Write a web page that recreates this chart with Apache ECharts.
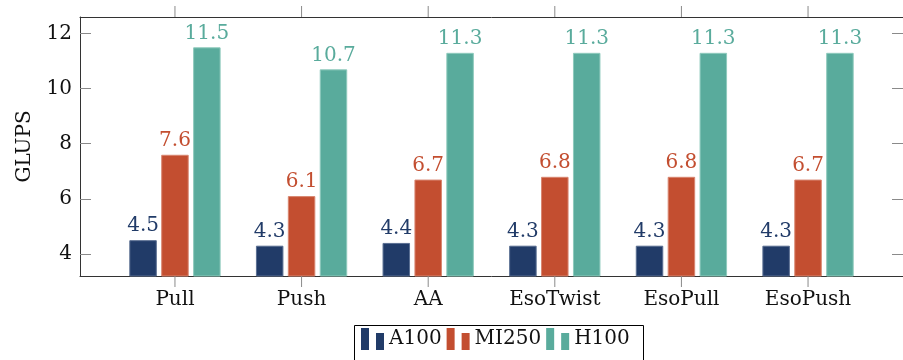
<!DOCTYPE html>
<html>
<head>
<meta charset="utf-8">
<script src="https://cdn.jsdelivr.net/npm/echarts@6/dist/echarts.min.js"></script>
<style>
  html, body { margin: 0; padding: 0; background: #fff; }
  #chart { width: 903px; height: 360px; }
</style>
</head>
<body>
<div id="chart"></div>
<script>
// Kernel variants and measured throughput (GLUPS) per GPU
const categories = ['Pull', 'Push', 'AA', 'EsoTwist', 'EsoPull', 'EsoPush'];
const a100 = [4.5, 4.3, 4.4, 4.3, 4.3, 4.3];
const mi250 = [7.6, 6.1, 6.7, 6.8, 6.8, 6.7];
const h100 = [11.5, 10.7, 11.3, 11.3, 11.3, 11.3];
const yTicks = [4, 6, 8, 10, 12];

const FONT = 'DejaVu Serif';
const FS = 20;
const Y_MIN = 3.2, Y_MAX = 12.6;
const X_MIN = -0.75, X_MAX = 5.75;
const TICK_LEN = 11;
const TICK_COLOR = '#8a8a8a';
const colors = { A100: '#213b68', MI250: '#c34e30', H100: '#59ab9c' };
const edge = { A100: '#5a6f92', MI250: '#d98670', H100: '#8fcabd' };
const catPos = categories.map((_, i) => i);

// two-bar glyph used in the legend
const barIcon = 'path://M0,0h8v22h-8z M15,5h8v17h-8z';

function barSeries(name, values) {
  return {
    name: name,
    type: 'bar',
    data: values.map((v, i) => [i, v]),
    barWidth: 27.5,
    barGap: '16%',
    itemStyle: { color: colors[name], borderColor: edge[name], borderWidth: 1 },
    label: {
      show: true,
      position: 'top',
      distance: 4,
      color: colors[name],
      fontFamily: FONT,
      fontSize: FS,
      formatter: p => p.value[1].toFixed(1)
    }
  };
}

// outward category ticks on the bottom and top edges of the frame
const categoryTicks = {
  type: 'custom',
  silent: true,
  clip: false,
  z: 5,
  data: catPos.map(i => [i]),
  encode: { x: 0 },
  renderItem: function (params, api) {
    const x = api.value(0);
    const bottom = api.coord([x, Y_MIN]);
    const top = api.coord([x, Y_MAX]);
    const style = { stroke: TICK_COLOR, lineWidth: 1 };
    return {
      type: 'group',
      children: [
        { type: 'line', shape: { x1: bottom[0], y1: bottom[1], x2: bottom[0], y2: bottom[1] + TICK_LEN }, style: style },
        { type: 'line', shape: { x1: top[0], y1: top[1] - TICK_LEN, x2: top[0], y2: top[1] }, style: style }
      ]
    };
  }
};

function xAxisDef(pos, withLabels) {
  return {
    type: 'value',
    position: pos,
    min: X_MIN,
    max: X_MAX,
    splitLine: { show: false },
    axisLine: { show: true, onZero: false, lineStyle: { color: '#333', width: 1 } },
    axisTick: { show: false },
    axisLabel: withLabels ? {
      show: true, margin: 14, customValues: catPos,
      formatter: v => categories[Math.round(v)],
      fontFamily: FONT, fontSize: FS, color: '#111'
    } : { show: false }
  };
}

function yAxisDef(pos, withLabels) {
  const ax = {
    type: 'value',
    position: pos,
    min: Y_MIN,
    max: Y_MAX,
    splitLine: { show: false },
    axisLine: { show: true, onZero: false, lineStyle: { color: '#333', width: 1 } },
    axisTick: { show: true, inside: true, length: TICK_LEN, lineStyle: { color: TICK_COLOR, width: 1 }, customValues: yTicks },
    axisLabel: withLabels
      ? { show: true, margin: 8, customValues: yTicks, fontFamily: FONT, fontSize: FS, color: '#111' }
      : { show: false, customValues: yTicks }
  };
  if (withLabels) {
    ax.name = 'GLUPS';
    ax.nameLocation = 'middle';
    ax.nameGap = 45;
    ax.nameTextStyle = { fontFamily: FONT, fontSize: FS, color: '#111' };
  }
  return ax;
}

const chart = echarts.init(document.getElementById('chart'), null, { renderer: 'canvas' });
chart.setOption({
  animation: false,
  backgroundColor: '#fff',
  grid: { left: 80, top: 17, width: 832, height: 259, show: false, containLabel: false },
  // legend frame, open at the bottom edge of the page
  graphic: [{
    type: 'rect',
    left: 352,
    top: 323,
    silent: true,
    shape: { x: 0, y: 0, width: 289, height: 60 },
    style: { fill: 'none', stroke: '#000', lineWidth: 1 }
  }],
  legend: {
    left: 352,
    top: 323,
    orient: 'horizontal',
    data: ['A100', 'MI250', 'H100'],
    icon: barIcon,
    itemWidth: 23,
    itemHeight: 22,
    itemGap: 5,
    itemStyle: { borderWidth: 0 },
    padding: [5, 10, 5, 9],
    borderWidth: 0,
    textStyle: { fontFamily: FONT, fontSize: FS, color: '#111' }
  },
  xAxis: [xAxisDef('bottom', true), xAxisDef('top', false)],
  yAxis: [yAxisDef('left', true), yAxisDef('right', false)],
  series: [
    barSeries('A100', a100),
    barSeries('MI250', mi250),
    barSeries('H100', h100),
    categoryTicks
  ]
});
</script>
</body>
</html>
